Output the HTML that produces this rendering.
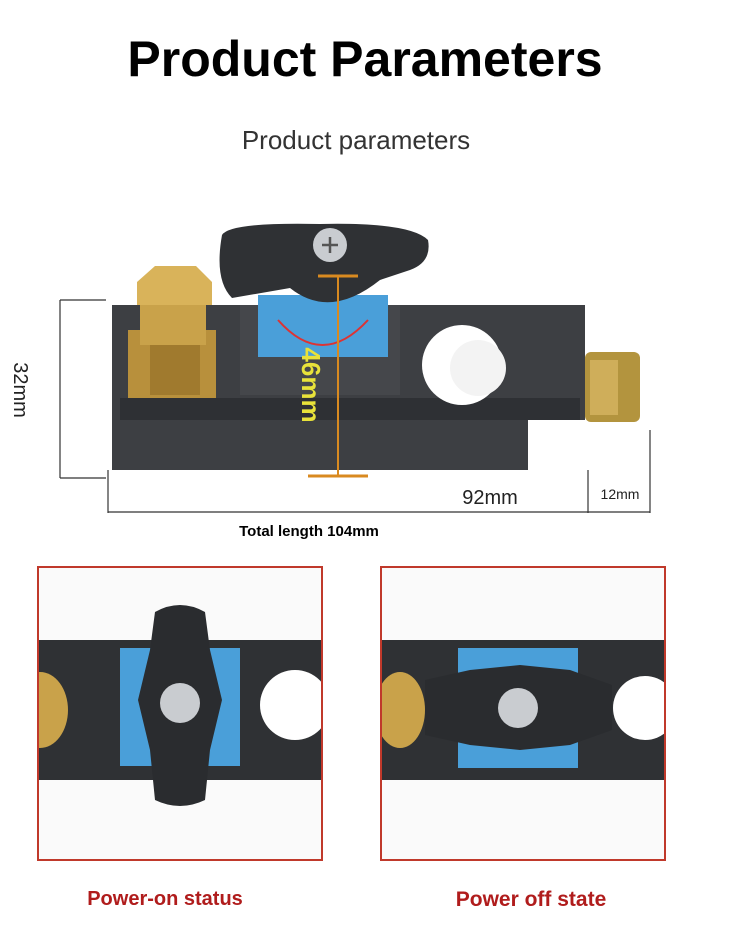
<!DOCTYPE html>
<html><head><meta charset="utf-8"><style>
html,body{margin:0;padding:0;background:#fff;width:750px;height:941px;overflow:hidden}
svg{display:block}
</style></head><body>
<svg width="750" height="941" viewBox="0 0 750 941" xmlns="http://www.w3.org/2000/svg" font-family="Liberation Sans, sans-serif">
<defs>
<clipPath id="c1"><rect x="39" y="568" width="282" height="291"/></clipPath>
<clipPath id="c2"><rect x="382" y="568" width="282" height="291"/></clipPath>
</defs>
<rect width="750" height="941" fill="#fff"/>
<text x="365" y="76" text-anchor="middle" font-size="50" font-weight="bold" fill="#000">Product Parameters</text>
<text x="356" y="149" text-anchor="middle" font-size="26" fill="#333">Product parameters</text>

<path d="M112 305 L585 305 L585 420 L528 420 L528 470 L112 470 Z" fill="#3d3f43"/>
<path d="M120 398 L580 398 L580 420 L120 420 Z" fill="#2e3034"/>
<rect x="240" y="305" width="160" height="90" fill="#45474b"/>
<circle cx="462" cy="365" r="40" fill="#fff"/>
<circle cx="478" cy="368" r="28" fill="#f3f3f3"/>
<rect x="128" y="330" width="88" height="68" fill="#b8903c"/>
<rect x="140" y="300" width="66" height="45" fill="#c9a24a"/>
<path d="M137 282 L155 266 L196 266 L212 282 L212 305 L137 305 Z" fill="#d9b35a"/>
<rect x="150" y="345" width="50" height="50" fill="#a07a2e"/>
<rect x="585" y="352" width="55" height="70" rx="6" fill="#b3943e"/>
<rect x="590" y="360" width="28" height="55" fill="#cfae5a"/>
<rect x="258" y="295" width="130" height="62" fill="#4a9fd9"/>
<path d="M278 320 Q322 370 368 320" stroke="#d33" stroke-width="2" fill="none"/>
<path d="M222 235 Q230 222 320 224 Q410 222 428 240 Q432 262 410 270 L380 280 Q330 320 290 288 L232 298 Q214 280 222 235 Z" fill="#2f3134"/>
<circle cx="330" cy="245" r="17" fill="#c9ccd0"/>
<path d="M322 245 H338 M330 237 V253" stroke="#555" stroke-width="2.5"/>
<line x1="338" y1="276" x2="338" y2="476" stroke="#d98a20" stroke-width="2"/>
<line x1="318" y1="276" x2="358" y2="276" stroke="#d98a20" stroke-width="3"/>
<line x1="308" y1="476" x2="368" y2="476" stroke="#d98a20" stroke-width="3"/>
<text transform="translate(302,385) rotate(90)" text-anchor="middle" font-size="26" font-weight="bold" fill="#e8e23a">46mm</text>
<g stroke="#333" stroke-width="1.2">
<line x1="60" y1="300" x2="60" y2="478"/>
<line x1="60" y1="300" x2="106" y2="300"/>
<line x1="60" y1="478" x2="106" y2="478"/>
<line x1="108" y1="470" x2="108" y2="513"/>
<line x1="588" y1="470" x2="588" y2="513"/>
<line x1="650" y1="430" x2="650" y2="513"/>
<line x1="108" y1="512" x2="650" y2="512"/>
</g>
<text transform="translate(14,390) rotate(90)" text-anchor="middle" font-size="20" fill="#222">32mm</text>
<text x="490" y="504" text-anchor="middle" font-size="20" fill="#222">92mm</text>
<text x="620" y="499" text-anchor="middle" font-size="14" fill="#222">12mm</text>
<text x="309" y="536" text-anchor="middle" font-size="15" font-weight="bold" fill="#000">Total length 104mm</text>

<rect x="38" y="567" width="284" height="293" fill="#fafafa" stroke="#c0392b" stroke-width="2"/>
<g clip-path="url(#c1)">
<rect x="39" y="640" width="282" height="140" fill="#2f3134"/>
<rect x="120" y="648" width="120" height="118" fill="#4a9fd9"/>
<circle cx="295" cy="705" r="35" fill="#fff"/>
<ellipse cx="40" cy="710" rx="28" ry="38" fill="#c9a24a"/>
<path d="M155 612 Q180 598 205 612 L210 650 L222 700 L210 750 L205 800 Q180 812 155 800 L150 750 L138 700 L150 650 Z" fill="#2a2c2f"/>
<circle cx="180" cy="703" r="20" fill="#c9ccd0"/>
</g>
<rect x="381" y="567" width="284" height="293" fill="#fafafa" stroke="#c0392b" stroke-width="2"/>
<g clip-path="url(#c2)">
<rect x="382" y="640" width="282" height="140" fill="#2f3134"/>
<rect x="458" y="648" width="120" height="120" fill="#4a9fd9"/>
<circle cx="645" cy="708" r="32" fill="#fff"/>
<ellipse cx="400" cy="710" rx="25" ry="38" fill="#c9a24a"/>
<path d="M425 680 L470 670 L520 665 L570 670 L612 685 L612 730 L570 745 L520 750 L470 745 L425 735 Z" fill="#2a2c2f"/>
<circle cx="518" cy="708" r="20" fill="#c9ccd0"/>
</g>

<text x="165" y="905" text-anchor="middle" font-size="20" font-weight="bold" fill="#b01c1c">Power-on status</text>
<text x="531" y="906" text-anchor="middle" font-size="21" font-weight="bold" fill="#b01c1c">Power off state</text>
</svg>
</body></html>
